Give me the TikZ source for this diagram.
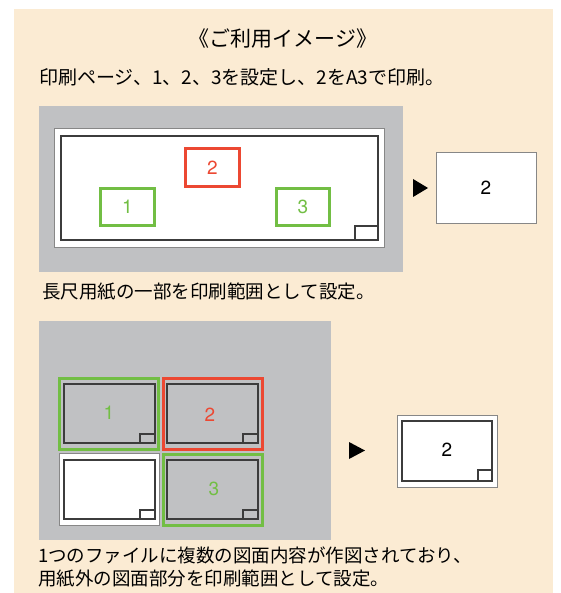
\documentclass[tikz,border=0pt]{standalone}
\usepackage{fontspec}
\setmainfont{Noto Sans CJK JP}
\newfontfamily\numfont{TeX Gyre Heros}
\definecolor{beige}{RGB}{251,235,211}
\definecolor{panelgray}{RGB}{192,193,195}
\definecolor{selred}{RGB}{236,72,50}
\definecolor{selgreen}{RGB}{114,190,68}
\definecolor{linedark}{RGB}{60,60,60}
\definecolor{linegray}{RGB}{135,135,135}

\begin{document}
\begin{tikzpicture}[x=1pt, y=-1pt,
  font=\fontsize{18.5}{23}\selectfont,
  numbox/.style={font=\numfont\fontsize{19}{22}\selectfont, inner sep=0pt},
  sheet/.style={draw=linegray, line width=0.9pt, fill=white},
  frame/.style={draw=linedark, line width=1.3pt},
  pick/.style={line width=3pt}]

\useasboundingbox (0,0) rectangle (560,593);
\fill[beige] (14,9) rectangle (553,593);

% headings
\node[name=title, font=\fontsize{21}{24}\selectfont] at (283,39) {《ご利用イメージ》};
\node[name=intro, anchor=west, inner sep=0pt, font=\fontsize{19}{23}\selectfont] at (39,77) {印刷ページ、1、2、3を設定し、2をA3で印刷。};

% long sheet
\fill[panelgray] (39,106) rectangle (403,272);
\draw[sheet] (54,128) rectangle (384,247);
\draw[frame] (61,136) rectangle (378,240);
\draw[frame] (355,226) rectangle (378,240);
\node[name=r2, draw=selred, pick, text=selred, numbox, minimum width=54, minimum height=38] at (212.5,167.5) {2};
\node[name=r1, draw=selgreen, pick, text=selgreen, numbox, minimum width=54, minimum height=37] at (127.5,207) {1};
\node[name=r3, draw=selgreen, pick, text=selgreen, numbox, minimum width=53, minimum height=37] at (303,207) {3};

\fill (413,179) -- (428,188) -- (413,197) -- cycle;
\node[name=out1, sheet, numbox, minimum width=100, minimum height=71] at (486,187.5) {2};

\node[name=cap1, anchor=west, inner sep=0pt] at (42,292) {長尺用紙の一部を印刷範囲として設定。};

% several drawings in one file
\fill[panelgray] (39,321) rectangle (331,540);
\draw[sheet] (59,453) rectangle (159,525);
\draw[frame, fill=white] (64,460) rectangle (155,519);
\draw[frame] (140,510) rectangle (155,519);
\draw[selgreen, pick] (59,378) rectangle (158,449);
\draw[frame] (64,384) rectangle (155,443);
\draw[frame] (140,434) rectangle (155,443);
\draw[selred, pick] (163,378) rectangle (262,449);
\draw[frame] (167,384) rectangle (258,443);
\draw[frame] (243,434) rectangle (258,443);
\draw[selgreen, pick] (163,454) rectangle (262,525);
\draw[frame] (167,460) rectangle (258,519);
\draw[frame] (243,510) rectangle (258,519);
\node[name=d1, numbox, text=selgreen] at (109,413) {1};
\node[name=d2, numbox, text=selred] at (210,415) {2};
\node[name=d3, numbox, text=selgreen] at (214,489) {3};

\fill (349,442) -- (365,450.5) -- (349,459) -- cycle;
\draw[sheet] (397,415) rectangle (497,487);
\draw[frame] (402,421) rectangle (492,481);
\draw[frame] (478,470) rectangle (492,481);
\node[name=out2, numbox] at (447,450) {2};

\node[name=cap2, anchor=west, inner sep=0pt, align=left] at (38,567) {1つのファイルに複数の図面内容が作図されており、\\用紙外の図面部分を印刷範囲として設定。};
\end{tikzpicture}
\end{document}
